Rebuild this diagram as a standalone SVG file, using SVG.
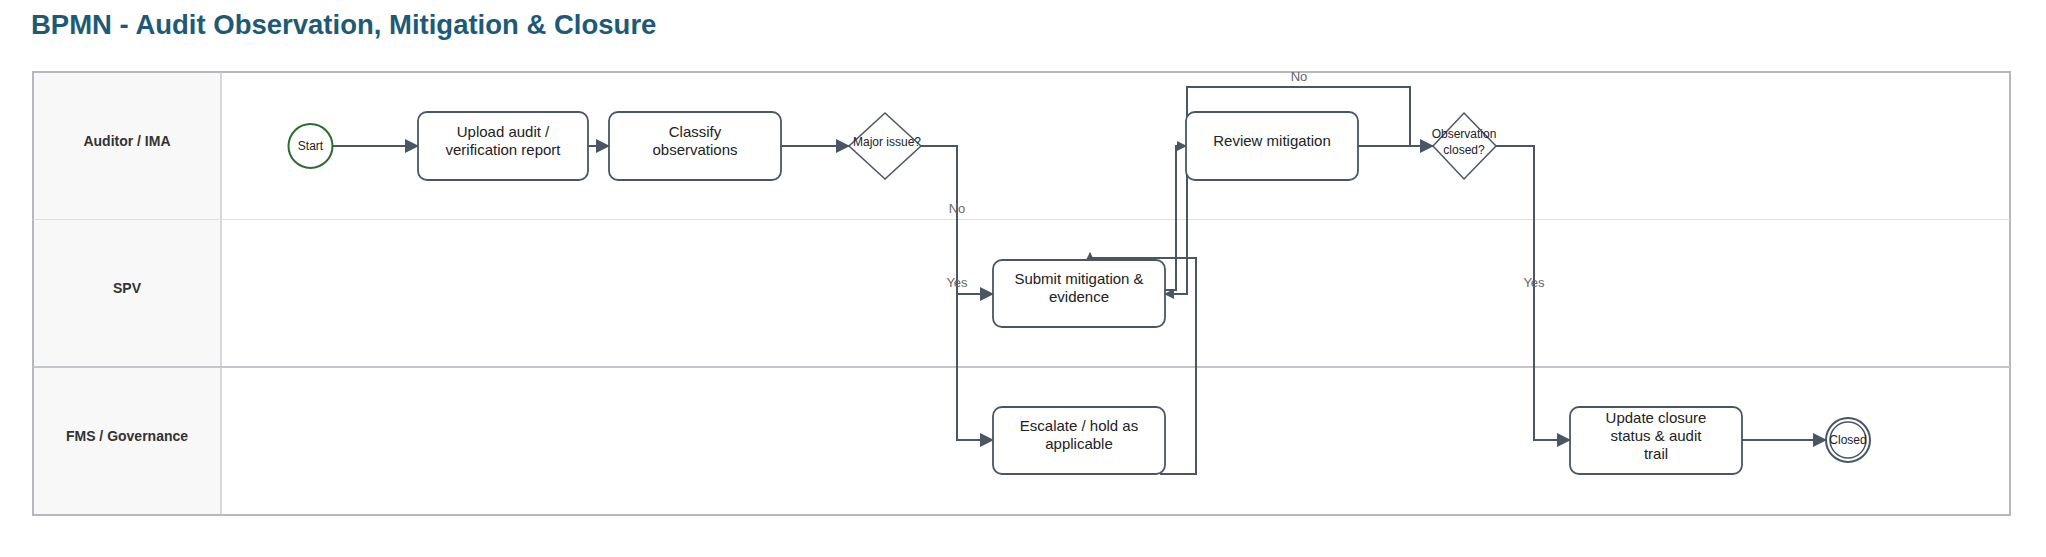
<svg xmlns="http://www.w3.org/2000/svg" width="2046" height="557" viewBox="0 0 2046 557">
<style>
text{font-family:"Liberation Sans",Arial,sans-serif;fill:#222}
.t{font-size:15px;text-anchor:middle}
.lane{font-size:14px;font-weight:bold;text-anchor:middle;fill:#333}
.box{fill:#fff;stroke:#4b5563;stroke-width:1.8}
.c{fill:none;stroke:#4b5563;stroke-width:2}
.lbl{font-size:13px;fill:#666;text-anchor:middle}
</style>
<defs><marker id="a" markerWidth="10" markerHeight="10" refX="9" refY="5" orient="auto" markerUnits="userSpaceOnUse"><path d="M0,0 L10,5 L0,10 Z" fill="#4b5563"/></marker>
<marker id="b" markerWidth="14" markerHeight="14" refX="13" refY="7" orient="auto" markerUnits="userSpaceOnUse"><path d="M0,0 L14,7 L0,14 Z" fill="#4b5563"/></marker></defs>
<rect width="2046" height="557" fill="#fff"/>
<text x="31" y="34" style="font-size:27.5px;font-weight:bold;fill:#1e5a78">BPMN - Audit Observation, Mitigation &amp; Closure</text>
<g id="pool">
<rect x="33" y="72" width="1977" height="443" fill="#fff" stroke="#b5b8bd" stroke-width="2"/>
<rect x="34" y="73" width="187" height="441" fill="#f8f8f8"/>
<line x1="221" y1="72" x2="221" y2="515" stroke="#c8cbd0" stroke-width="1.5"/>
<line x1="33" y1="219.5" x2="2010" y2="219.5" stroke="#dcdfe3" stroke-width="1"/>
<line x1="33" y1="367" x2="2010" y2="367" stroke="#c3c7cc" stroke-width="2"/>
<text class="lane" x="127" y="146">Auditor / IMA</text>
<text class="lane" x="127" y="293">SPV</text>
<text class="lane" x="127" y="441">FMS / Governance</text>
</g>
<g id="connectors">
<path class="c" d="M333,146 H418" marker-end="url(#b)"/>
<path class="c" d="M588,146 H609" marker-end="url(#b)"/>
<path class="c" d="M781,146 H849" marker-end="url(#b)"/>
<path class="c" d="M921,146 H957 V294 H993" marker-end="url(#b)"/>
<path class="c" d="M957,294 V440 H993" marker-end="url(#b)"/>
<path class="c" d="M1165,290 H1176 V146 H1186" marker-end="url(#a)"/>
<path class="c" d="M1433,146 H1410 V87 H1187 V294 H1165" marker-end="url(#a)"/>
<path class="c" d="M1160,474 H1196 V258 H1090 V253" marker-end="url(#a)"/>
<path class="c" d="M1358,146 H1433" marker-end="url(#b)"/>
<path class="c" d="M1496,146 H1534 V440 H1570" marker-end="url(#b)"/>
<path class="c" d="M1742,440 H1826" marker-end="url(#b)"/>
<text class="lbl" x="957" y="213">No</text>
<text class="lbl" x="957" y="287">Yes</text>
<text class="lbl" x="1299" y="81">No</text>
<text class="lbl" x="1534" y="287">Yes</text>
</g>
<g id="start"><circle cx="310.5" cy="146" r="22" fill="#fff" stroke="#2e6b34" stroke-width="2"/><text class="t" x="310.5" y="150" style="font-size:12px">Start</text></g>
<g id="upload"><rect class="box" x="418" y="112" width="170" height="68" rx="9"/><text class="t" x="503" y="137">Upload audit /</text><text class="t" x="503" y="155">verification report</text></g>
<g id="classify"><rect class="box" x="609" y="112" width="172" height="68" rx="9"/><text class="t" x="695" y="137">Classify</text><text class="t" x="695" y="155">observations</text></g>
<g id="major"><polygon points="885,113 921,146 885,179 849,146" fill="#fff" stroke="#4b5563" stroke-width="1.5"/><text class="t" x="887" y="146" style="font-size:12px">Major issue?</text></g>
<g id="submit"><rect class="box" x="993" y="260" width="172" height="67" rx="9"/><text class="t" x="1079" y="284">Submit mitigation &amp;</text><text class="t" x="1079" y="302">evidence</text></g>
<g id="escalate"><rect class="box" x="993" y="407" width="172" height="67" rx="9"/><text class="t" x="1079" y="431">Escalate / hold as</text><text class="t" x="1079" y="449">applicable</text></g>
<g id="review"><rect class="box" x="1186" y="112" width="172" height="68" rx="9"/><text class="t" x="1272" y="146">Review mitigation</text></g>
<g id="obs"><polygon points="1464,113 1496,146 1464,179 1433,146" fill="#fff" stroke="#4b5563" stroke-width="1.5"/><text class="t" x="1464" y="138" style="font-size:12px">Observation</text><text class="t" x="1464" y="154" style="font-size:12px">closed?</text></g>
<g id="update"><rect class="box" x="1570" y="407" width="172" height="67" rx="9"/><text class="t" x="1656" y="423">Update closure</text><text class="t" x="1656" y="441">status &amp; audit</text><text class="t" x="1656" y="459">trail</text></g>
<g id="closed"><circle cx="1848" cy="440" r="22" fill="#fff" stroke="#4b5563" stroke-width="2"/><circle cx="1848" cy="440" r="18" fill="none" stroke="#4b5563" stroke-width="1.5"/><text class="t" x="1848" y="444" style="font-size:12px">Closed</text></g>
</svg>
